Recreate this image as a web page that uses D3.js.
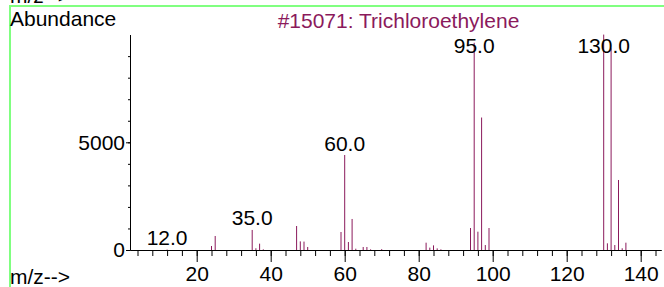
<!DOCTYPE html>
<html>
<head>
<meta charset="utf-8">
<script src="https://cdn.jsdelivr.net/npm/d3@7"></script>
<style>
  html, body { margin: 0; padding: 0; background: #fff; }
  svg { display: block; }
  text { font-family: "Liberation Sans", Arial, Helvetica, sans-serif; }
</style>
</head>
<body>
<svg id="chart" width="664" height="287"></svg>
<script>
// ---- data ----
const title = "#15071: Trichloroethylene";
const mz = [12,24,25,35,36,37,38,47,48,49,50,59,60,61,62,63,65,66,67,70,82,83,84,85,86,94,95,96,97,98,99,130,131,132,133,134,135,136];
const abundance = [20,186,650,930,80,295,30,1114,400,390,140,835,4410,370,1440,60,140,140,30,40,340,110,215,75,30,1020,9620,850,6150,230,1020,10000,310,9360,230,3250,80,340];
const labeledPeaks = [12,35,60,95,130];
const xMajorTicks = [20,40,60,80,100,120,140];
const xMinorTicks = d3.range(4,145,4);
const yMajorTicks = [0,5000];
const yMinorTicks = d3.range(0,10000,1000);

// ---- drawing ----
const svg = d3.select("#chart");
const maroon = "#8b1a5c";
const fontSize = 21;

const x = d3.scaleLinear().domain([2, 145.5]).range([130.1, 661.05]);
const y = d3.scaleLinear().domain([0, 10000]).range([250, 34.6]);

// green frame
svg.append("line").attr("x1", 9).attr("x2", 664).attr("y1", 6).attr("y2", 6)
  .attr("stroke", "#80ff80").attr("stroke-width", 2);
svg.append("line").attr("x1", 10).attr("x2", 10).attr("y1", 6).attr("y2", 287)
  .attr("stroke", "#80ff80").attr("stroke-width", 2);

// clipped m/z label from the panel above
svg.append("text").attr("x", 10).attr("y", 3).attr("font-size", fontSize)
  .attr("fill", "#000").text("m/z-->");

// bars
svg.append("g").selectAll("line").data(mz).join("line")
  .attr("x1", d => x(d)).attr("x2", d => x(d))
  .attr("y1", y(0)).attr("y2", (d, i) => y(abundance[i]))
  .attr("stroke", maroon).attr("stroke-width", 1);

// x axis minor
const xMinor = d3.axisBottom(x).tickValues(xMinorTicks).tickSize(6).tickSizeOuter(0).tickFormat("");
svg.append("g").attr("transform", "translate(0,250)").call(xMinor);
// x axis major
const xMajor = d3.axisBottom(x).tickValues(xMajorTicks).tickSize(12).tickSizeOuter(0)
  .tickPadding(4).tickFormat(d3.format("d"));
svg.append("g").attr("transform", "translate(0,250)").call(xMajor);

// y axis minor
const yMinor = d3.axisLeft(y).tickValues(yMinorTicks).tickSize(2).tickSizeOuter(0).tickFormat("");
svg.append("g").attr("transform", "translate(130,0)").call(yMinor);
const yMajor = d3.axisLeft(y).tickValues(yMajorTicks).tickSize(4).tickSizeOuter(0)
  .tickPadding(1).tickFormat(d3.format("d"));
svg.append("g").attr("transform", "translate(130,0)").call(yMajor);

svg.selectAll(".tick text").attr("font-size", fontSize).attr("font-family", "Liberation Sans, Arial, sans-serif").attr("fill", "#000");
svg.selectAll(".domain, .tick line").attr("stroke", "#000");

// peak labels
const peakData = labeledPeaks.map(m => ({ m, v: abundance[mz.indexOf(m)] }));
svg.append("g").selectAll("text").data(peakData).join("text")
  .attr("x", d => x(d.m))
  .attr("y", d => Math.max(y(d.v) - 4.5, 52.5))
  .attr("text-anchor", "middle").attr("font-size", fontSize).attr("fill", "#000")
  .text(d => d.m.toFixed(1));

// title
svg.append("text").attr("x", 398.5).attr("y", 28).attr("text-anchor", "middle")
  .attr("font-size", fontSize).attr("fill", maroon).text(title);

// y axis title
svg.append("text").attr("x", 10).attr("y", 26).attr("font-size", fontSize)
  .attr("fill", "#000").text("Abundance");

// x axis title
svg.append("text").attr("x", 10).attr("y", 284).attr("font-size", fontSize)
  .attr("fill", "#000").text("m/z-->");
</script>
</body>
</html>
